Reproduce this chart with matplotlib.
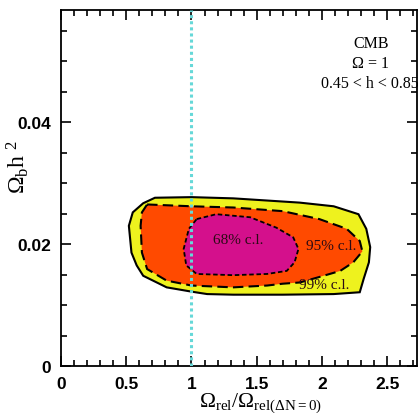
import matplotlib
matplotlib.use("Agg")
import matplotlib.pyplot as plt
from matplotlib.ticker import MultipleLocator

plt.rcParams['mathtext.fontset'] = 'custom'
plt.rcParams['mathtext.rm'] = 'Liberation Serif'
plt.rcParams['mathtext.it'] = 'Liberation Serif'

# 99% c.l. contour (solid)
c99_x = [0.72, 1.00, 1.32, 1.83, 2.09, 2.28, 2.34, 2.37, 2.36, 2.32, 2.29,
         2.09, 1.70, 1.32, 1.12, 1.00, 0.81, 0.63, 0.58, 0.54, 0.52, 0.55, 0.63]
c99_y = [0.0276, 0.0277, 0.0275, 0.0268, 0.0262, 0.0249, 0.0225, 0.0195, 0.0170, 0.0143, 0.0121,
         0.0118, 0.0117, 0.0117, 0.0118, 0.0122, 0.0129, 0.0148, 0.0165, 0.0186, 0.0230, 0.0252, 0.0267]
# 95% c.l. contour (long dashes)
c95_x = [0.66, 1.00, 1.32, 1.70, 1.98, 2.19, 2.29, 2.31, 2.24, 2.14, 1.98, 1.83,
         1.70, 1.58, 1.32, 1.00, 0.81, 0.66, 0.62, 0.61, 0.62]
c95_y = [0.0265, 0.0262, 0.0260, 0.0254, 0.0241, 0.0225, 0.0205, 0.0188, 0.0170, 0.0156, 0.0146, 0.0137,
         0.0135, 0.0132, 0.0129, 0.0132, 0.0140, 0.0159, 0.0186, 0.0230, 0.0252]
# 68% c.l. contour (short dashes)
c68_x = [1.04, 1.19, 1.45, 1.65, 1.78, 1.82, 1.79, 1.73, 1.58, 1.32, 1.04, 0.96, 0.94, 0.98]
c68_y = [0.0241, 0.0249, 0.0244, 0.0227, 0.0211, 0.0192, 0.0170, 0.0156, 0.0151, 0.0149, 0.0151, 0.0165, 0.0192, 0.0225]

labels = ["68% c.l.", "95% c.l.", "99% c.l."]
label_x = [1.356, 2.07, 2.02]
label_y = [0.0207, 0.0197, 0.0133]
ref_x = 1.0

fig = plt.figure(figsize=(4.18, 4.14), dpi=100)
ax = fig.add_axes([0.146, 0.1135, 0.852, 0.86])

ax.fill(c99_x, c99_y, facecolor='#eef21e', edgecolor='black', linewidth=1.5, zorder=1)
ax.fill(c95_x, c95_y, facecolor='#ff4a00', edgecolor='black', linewidth=1.5,
        linestyle=(0, (5, 2.5)), zorder=2)
ax.fill(c68_x, c68_y, facecolor='#d4108c', edgecolor='black', linewidth=1.3,
        linestyle=(0, (2.5, 1.5)), zorder=3)
ax.axvline(ref_x, color='#66d8d8', linewidth=2.2, linestyle=(0, (1, 1)), zorder=4)

for t, x, y in zip(labels, label_x, label_y):
    ax.text(x, y, t, ha='center', va='center', fontsize=11,
            family='Liberation Serif', color='#2a0a14', zorder=5)

ax.text(0.87, 0.908, "CMB", transform=ax.transAxes, ha='center', va='center',
        fontsize=11.5, family='Liberation Serif')
ax.text(0.87, 0.852, "Ω = 1", transform=ax.transAxes, ha='center', va='center',
        fontsize=11.5, family='Liberation Serif')
ax.text(1.005, 0.796, "0.45 < h < 0.85", transform=ax.transAxes, ha='right', va='center',
        fontsize=11.5, family='Liberation Serif')

ax.set_xlim(0, 2.73)
ax.set_ylim(0, 0.0584)
ax.set_xticks([0, 0.5, 1, 1.5, 2, 2.5])
ax.set_xticklabels(['0', '0.5', '1', '1.5', '2', '2.5'])
ax.set_yticks([0, 0.02, 0.04])
ax.set_yticklabels(['0', '0.02', '0.04'])
ax.xaxis.set_minor_locator(MultipleLocator(0.1))
ax.yaxis.set_minor_locator(MultipleLocator(0.005))
ax.tick_params(which='both', direction='in', top=True, right=True, width=1.2)
ax.tick_params(which='major', length=7, labelsize=12.5, pad=7)
ax.tick_params(which='minor', length=4)
for lab in ax.get_xticklabels() + ax.get_yticklabels():
    lab.set_family('Liberation Sans')
    lab.set_fontweight('bold')
for s in ax.spines.values():
    s.set_linewidth(1.3)

ax.set_xlabel(r'$\Omega_{\rm rel}/\Omega_{\rm rel(\Delta N=0)}$', fontsize=15.5)
ax.xaxis.set_label_coords(0.559, -0.068)
ax.set_ylabel(r'$\Omega_{\rm b}h^{\ 2}$', fontsize=17)
ax.yaxis.set_label_coords(-0.085, 0.562)

fig.savefig('out.png', dpi=100)
